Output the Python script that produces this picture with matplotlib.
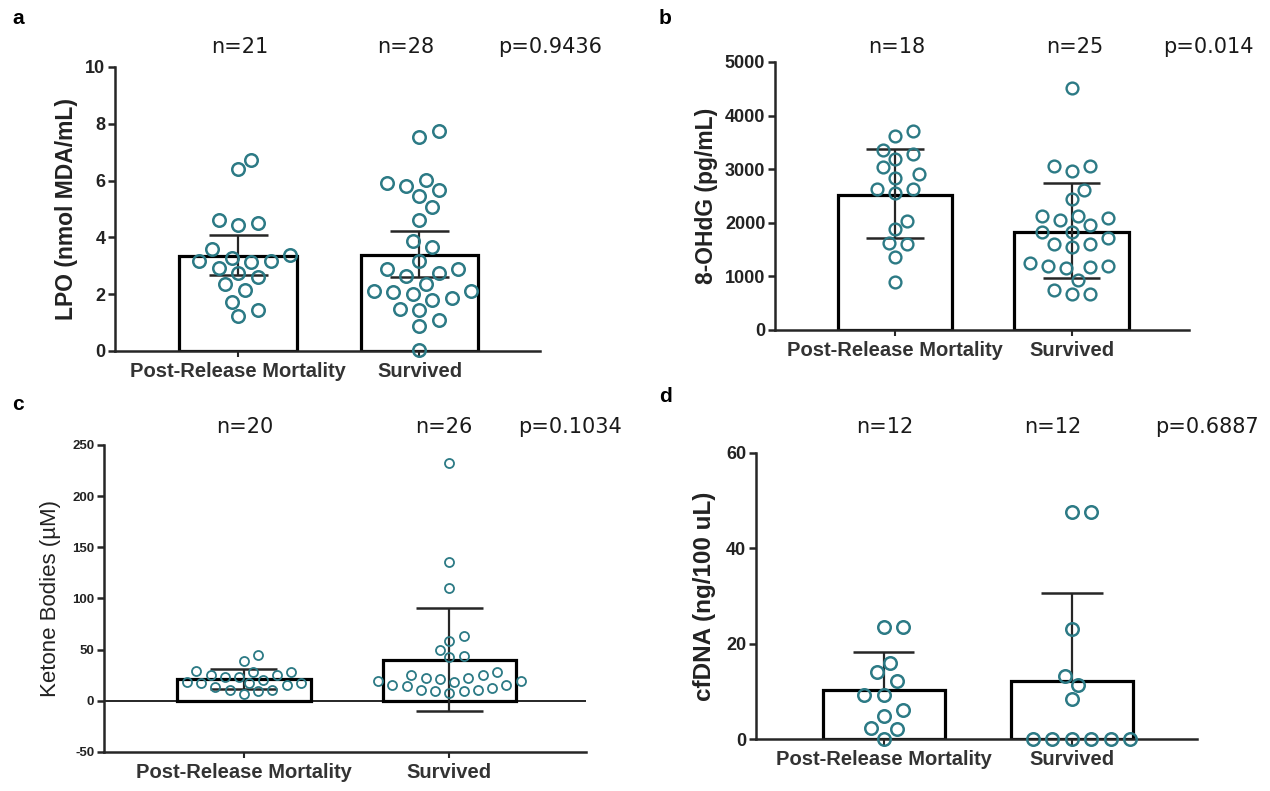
import numpy as np
import matplotlib
matplotlib.use('Agg')
import matplotlib.pyplot as plt

plt.rcParams['axes.unicode_minus'] = False

W, H = 1270, 791
groups = ['Post-Release Mortality', 'Survived']

# panel a - LPO (nmol MDA/mL)
lpo_prm = [6.73, 6.41, 4.62, 4.44, 4.51, 3.59, 3.29, 3.18, 2.94, 2.73, 3.15, 3.18,
           3.39, 2.59, 2.35, 2.14, 1.74, 1.44, 1.24]
lpo_surv = [7.53, 7.73, 5.91, 5.68, 5.45, 5.06, 5.82, 6.02, 4.62, 3.88, 3.65, 3.18,
            2.88, 2.65, 2.76, 2.88, 2.06, 1.86, 2.12, 2.10, 2.35, 2.02, 1.79, 1.47,
            1.44, 1.08, 0.88, 0.05]
lpo_mean = [3.35, 3.37]
lpo_lo = [2.68, 2.62]
lpo_hi = [4.07, 4.22]

# panel b - 8-OHdG (pg/mL)
ohdg_prm = [3611, 3705, 3288, 3194, 3350, 3039, 2839, 2902, 2634, 2553, 2634, 2042,
            1887, 1606, 1619, 1370, 903]
ohdg_surv = [4520, 3051, 2964, 3051, 2603, 2435, 2123, 2092, 2061, 2123, 1961, 1837,
             1837, 1606, 1544, 1606, 1712, 1189, 1171, 1158, 1189, 1252, 934, 753,
             672, 672]
ohdg_mean = [2522, 1837]
ohdg_lo = [1712, 965]
ohdg_hi = [3381, 2740]

# panel c - ketone bodies (uM)
ket_prm = [44.5, 39.2, 28.8, 28.2, 28.2, 25.7, 25.7, 23.5, 23.5, 18.8, 17.2, 17.2,
           17.2, 15.7, 13.2, 11.0, 11.0, 9.4, 6.3, 20.5]
ket_surv = [232.6, 135.7, 110.7, 63.6, 58.6, 49.2, 42.9, 43.9, 19.4, 11.0, 21.9,
            21.0, 12.5, 25.0, 15.0, 15.7, 7.8, 25.7, 14.1, 22.6, 10.0, 19.4, 11.0,
            28.2, 18.8, 9.4]
ket_mean = [21.0, 39.5]
ket_lo = [11.5, -10.3]
ket_hi = [30.8, 90.3]

# panel d - cfDNA (ng/100 uL)
cf_prm = [23.6, 23.6, 15.9, 14.0, 12.2, 9.3, 9.3, 6.1, 4.9, 2.3, 2.0, 0.0]
cf_surv = [47.7, 47.7, 23.0, 13.3, 11.4, 8.4, 0, 0, 0, 0, 0, 0]
cf_mean = [10.2, 12.2]
cf_hi = [18.2, 30.6]

teal = '#2c7a85'
axcol = '#262626'
num_font = 'Liberation Sans'
txt_font = 'DejaVu Sans'

fig = plt.figure(figsize=(W / 100, H / 100), dpi=100)


def px_axes(left, right, bottom, top):
    return fig.add_axes([left / W, 1 - bottom / H, (right - left) / W, (bottom - top) / H])


def swarm_x(ax, center, vals, diam):
    # simple beeswarm in pixel space, points placed bottom-up
    tr = ax.transData
    vals = np.asarray(vals, dtype=float)
    pts = tr.transform(np.column_stack([np.full(len(vals), center), vals]))
    x0 = pts[0, 0]
    ys = pts[:, 1]
    xs = np.full(len(vals), x0)
    placed = []
    for i in np.argsort(ys):
        step = 0
        while True:
            offs = [0.0] if step == 0 else [step * diam * 0.5, -step * diam * 0.5]
            ok = None
            for o in offs:
                if all((x0 + o - px) ** 2 + (ys[i] - py) ** 2 >= (diam * 1.2) ** 2
                       for px, py in placed):
                    ok = o
                    break
            if ok is not None:
                xs[i] = x0 + ok
                placed.append((xs[i], ys[i]))
                break
            step += 1
    return tr.inverted().transform(np.column_stack([xs, ys]))[:, 0]


def panel(ax, prm, surv, mean, lo, hi, ylim, yticks, ylabel, ms, diam,
          label_x, both=True, tick_size=13, label_bold=True, label_size=16.5,
          zero_line=False):
    width = 0.65
    ax.set_xlim(-0.68, 1.665)
    ax.set_ylim(*ylim)
    ax.bar([0, 1], mean, width=width, bottom=0, color='white', edgecolor='black',
           linewidth=2.3, zorder=2)
    for i in range(2):
        low = lo[i] if both else mean[i]
        ax.vlines(i, low, hi[i], color=axcol, lw=1.6, zorder=3)
        ax.hlines(hi[i], i - width / 4, i + width / 4, color=axcol, lw=1.8, zorder=3)
        if both:
            ax.hlines(lo[i], i - width / 4, i + width / 4, color=axcol, lw=1.8, zorder=3)
    for i, vals in enumerate([prm, surv]):
        xs = swarm_x(ax, i, vals, diam)
        ax.plot(xs, vals, 'o', ms=ms, mfc='none', mec=teal, mew=ms * 0.2,
                zorder=4, clip_on=False)
    if zero_line:
        ax.axhline(0, color=axcol, lw=1.4, zorder=1)
    for s in ['top', 'right']:
        ax.spines[s].set_visible(False)
    for s in ['left', 'bottom']:
        ax.spines[s].set_linewidth(1.8)
        ax.spines[s].set_color(axcol)
    ax.set_yticks(yticks)
    ax.set_xticks([0, 1])
    ax.set_xticklabels(groups, fontsize=14.5, fontweight='bold', family=num_font,
                       color='#333333')
    ax.tick_params(axis='y', length=5, width=1.8, color=axcol, pad=2,
                   labelsize=tick_size, labelcolor='#222222')
    ax.tick_params(axis='x', length=4, width=1.5, color=axcol, pad=4)
    for t in ax.get_yticklabels():
        t.set_fontweight('bold')
        t.set_family(num_font)
    ax.set_ylabel(ylabel, fontsize=label_size, family=num_font,
                  fontweight='bold' if label_bold else 'normal', color='#222222')
    ax.yaxis.label.set_va('center')
    pos = ax.get_position()
    ax.yaxis.set_label_coords((label_x / W - pos.x0) / pos.width, 0.5)


ax_a = px_axes(115, 540, 351, 67)
panel(ax_a, lpo_prm, lpo_surv, lpo_mean, lpo_lo, lpo_hi, (0, 10), range(0, 11, 2),
      'LPO (nmol MDA/mL)', 9, 13, 66)

ax_b = px_axes(775, 1189, 330, 62)
panel(ax_b, ohdg_prm, ohdg_surv, ohdg_mean, ohdg_lo, ohdg_hi, (0, 5000),
      range(0, 5001, 1000), '8-OHdG (pg/mL)', 8.5, 12, 706)

ax_c = px_axes(104, 586, 752, 445)
panel(ax_c, ket_prm, ket_surv, ket_mean, ket_lo, ket_hi, (-50, 250),
      range(-50, 251, 50), 'Ketone Bodies (\u00b5M)', 6.5, 9.5, 51, tick_size=9.5,
      label_bold=False, label_size=16, zero_line=True)

ax_d = px_axes(756, 1197, 739, 453)
panel(ax_d, cf_prm, cf_surv, cf_mean, cf_mean, cf_hi, (0, 60), range(0, 61, 20),
      'cfDNA (ng/100 uL)', 9, 13, 704, both=False, label_size=17.5)

# panel letters
for letter, x, y in [('a', 18, 19), ('b', 665, 18), ('c', 18, 404), ('d', 665, 397)]:
    fig.text(x / W, 1 - y / H, letter, fontsize=15, fontweight='bold',
             family=num_font, ha='center', va='center')

# n and p annotations
notes = [('n=21', 240, 47), ('n=28', 406, 47), ('p=0.9436', 550, 47),
         ('n=18', 897, 47), ('n=25', 1075, 47), ('p=0.014', 1208, 47),
         ('n=20', 245, 427), ('n=26', 444, 427), ('p=0.1034', 570, 427),
         ('n=12', 885, 427), ('n=12', 1053, 427), ('p=0.6887', 1207, 427)]
for txt, x, y in notes:
    fig.text(x / W, 1 - y / H, txt, fontsize=15, family=txt_font,
             ha='center', va='center', color='#1a1a1a')

fig.savefig('out.png', dpi=100)
